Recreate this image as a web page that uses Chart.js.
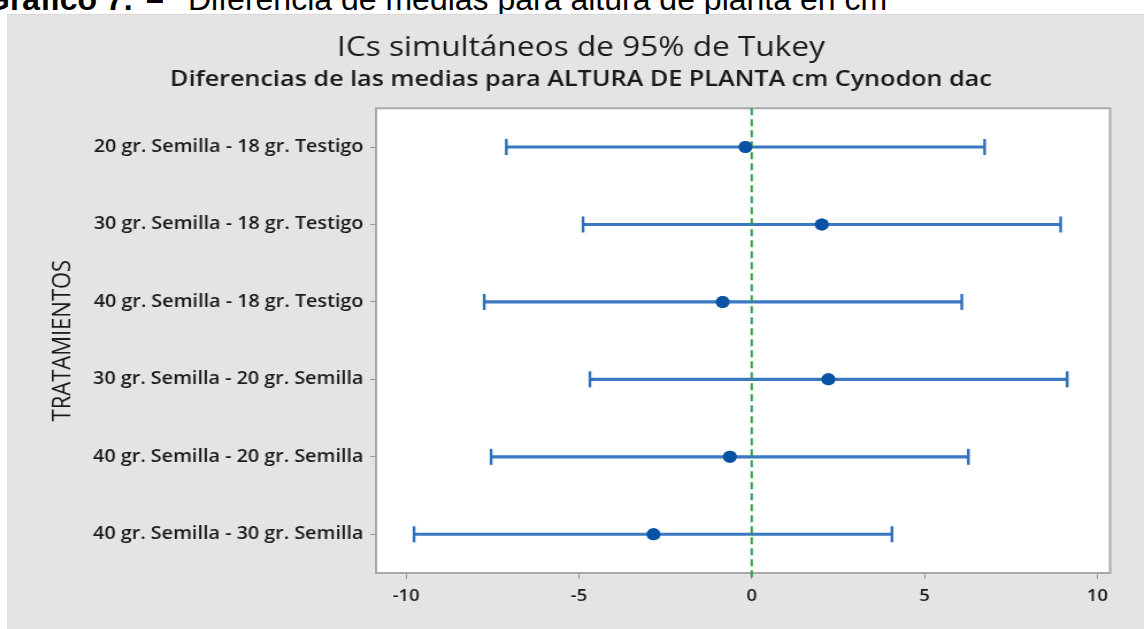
<!DOCTYPE html>
<html>
<head>
<meta charset="utf-8">
<script src="https://cdn.jsdelivr.net/npm/chart.js@4"></script>
<style>
  body { margin: 0; background: #fff; width: 1144px; height: 629px; overflow: hidden; position: relative; }
  #caption { position: absolute; top: -17px; left: 0; width: 1144px; font-family: "Liberation Sans", Arial, sans-serif; font-size: 32px; line-height: 32px; color: #000; white-space: nowrap; }
  #caption b, #caption span { position: absolute; top: 0; }
  #panel { position: absolute; left: 7px; top: 14px; width: 1137px; height: 615px; background: #e4e4e4; border-top: 1px solid #d8d8d8; box-sizing: border-box; overflow: hidden; }
  /* the original picture is stretched sideways */
  #tukeyChart { transform: scaleX(1.1496); transform-origin: 0 0; }
</style>
</head>
<body>
<div id="caption"><b style="left:-15px">Gráfico 7.</b><b style="left:146px">–</b><span style="left:188px">Diferencia de medias para altura de planta en cm</span></div>
<div id="panel"><canvas id="tukeyChart" width="989" height="614"></canvas></div>
<script>
const comparisons = [
    "20 gr. Semilla - 18 gr. Testigo",
    "30 gr. Semilla - 18 gr. Testigo",
    "40 gr. Semilla - 18 gr. Testigo",
    "30 gr. Semilla - 20 gr. Semilla",
    "40 gr. Semilla - 20 gr. Semilla",
    "40 gr. Semilla - 30 gr. Semilla",
];
const lower = [-7.10, -4.88, -7.74, -4.68, -7.54, -9.77];
const diff = [-0.18, 2.03, -0.84, 2.22, -0.63, -2.84];
const upper = [6.74, 8.94, 6.08, 9.13, 6.27, 4.06];
const xTicks = [-10, -5, 0, 5, 10];

const font = "'Open Sans', 'Noto Sans', sans-serif";

// white plot area + frame
const frame = {
    id: "frame",
    beforeDraw(chart) {
        const { ctx, chartArea: a } = chart;
        ctx.save();
        ctx.fillStyle = "#fff";
        ctx.fillRect(a.left, a.top, a.right - a.left, a.bottom - a.top);
        ctx.strokeStyle = "#a9a9a9";
        ctx.lineWidth = 2;
        ctx.strokeRect(a.left, a.top, a.right - a.left, a.bottom - a.top);
        ctx.restore();
    },
};

// caps on the intervals and the zero line
const errorCaps = {
    id: "errorCaps",
    afterDatasetsDraw(chart) {
        const { ctx, chartArea: a } = chart;
        const x0 = chart.scales.x.getPixelForValue(0);
        ctx.save();
        ctx.strokeStyle = "#2f9e45";
        ctx.lineWidth = 2;
        ctx.setLineDash([7, 4]);
        ctx.beginPath();
        ctx.moveTo(x0, a.top);
        ctx.lineTo(x0, a.bottom + 6);
        ctx.stroke();
        ctx.setLineDash([]);

        ctx.strokeStyle = "#2f6fb9";
        ctx.lineWidth = 2.4;
        chart.getDatasetMeta(0).data.forEach((bar) => {
            [bar.x, bar.base].forEach((px) => {
                ctx.beginPath();
                ctx.moveTo(px, bar.y - 8);
                ctx.lineTo(px, bar.y + 8);
                ctx.stroke();
            });
        });
        ctx.restore();

        // points again, above the zero line
        chart.getDatasetMeta(1).data.forEach((pt) => pt.draw(ctx, a));
    },
};

const ctx = document.getElementById("tukeyChart").getContext("2d");
new Chart(ctx, {
    type: "bar",
    data: {
        labels: comparisons,
        datasets: [
            {
                label: "IC 95%",
                data: lower.map((lo, i) => [lo, upper[i]]),
                backgroundColor: "#3a79c2",
                barThickness: 2.5,
                borderSkipped: false,
                indexAxis: "y",
            },
            {
                type: "line",
                label: "Diferencia",
                data: diff,
                indexAxis: "y",
                showLine: false,
                pointRadius: 6,
                pointBackgroundColor: "#0a53a4",
                pointBorderColor: "#0a53a4",
                pointBorderWidth: 0,
            },
        ],
    },
    options: {
        indexAxis: "y",
        responsive: false,
        animation: false,
        layout: { padding: { left: 39, right: 29.5, top: 0, bottom: 0 } },
        plugins: {
            legend: { display: false },
            tooltip: { enabled: false },
            title: {
                display: true,
                text: "ICs simultáneos de 95% de Tukey",
                color: "#1a1a1a",
                font: { family: font, size: 27.5, weight: "normal" },
                padding: { top: 17, bottom: 2 },
            },
            subtitle: {
                display: true,
                text: "Diferencias de las medias para ALTURA DE PLANTA cm Cynodon dac",
                color: "#1a1a1a",
                font: { family: font, size: 21.9, weight: "600" },
                padding: { top: 0, bottom: 15 },
            },
        },
        scales: {
            x: {
                min: -10.87,
                max: 10.37,
                afterBuildTicks: (axis) => {
                    axis.ticks = xTicks.map((v) => ({ value: v }));
                },
                afterFit: (axis) => {
                    axis.height = 56;
                },
                grid: { drawOnChartArea: false, tickLength: 6, color: "#9a9a9a" },
                border: { display: false },
                ticks: { color: "#1a1a1a", font: { family: font, size: 16, weight: "600" }, padding: 8, maxRotation: 0 },
            },
            y: {
                afterFit: (axis) => {
                    axis.width = 282;
                },
                grid: { drawOnChartArea: false, offset: false, tickLength: 5, color: "#9a9a9a" },
                border: { display: false },
                ticks: { color: "#1a1a1a", font: { family: font, size: 17.2, weight: "600" }, padding: 6 },
                title: {
                    display: true,
                    text: "TRATAMIENTOS",
                    color: "#1a1a1a",
                    font: { family: font, size: 22 },
                    padding: { top: -3, bottom: 0 },
                },
            },
        },
    },
    plugins: [frame, errorCaps],
});
</script>
</body>
</html>
